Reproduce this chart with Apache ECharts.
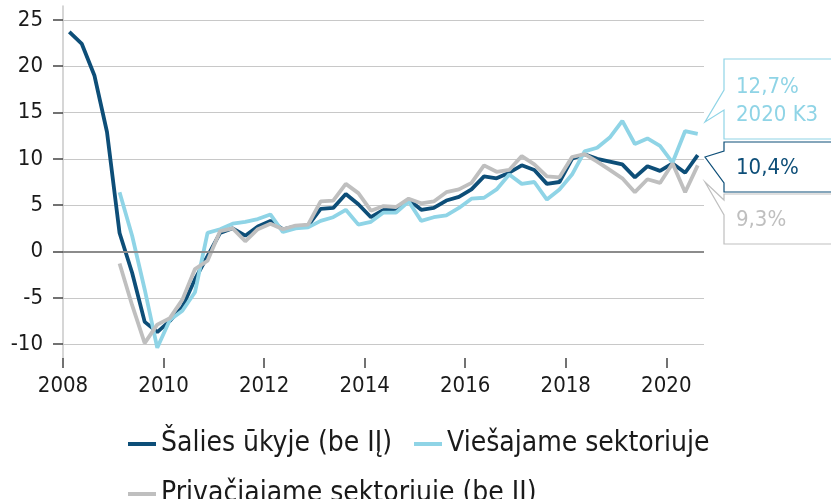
<!DOCTYPE html>
<html>
<head>
<meta charset="utf-8">
<script src="https://cdn.jsdelivr.net/npm/echarts@6/dist/echarts.min.js"></script>
<style>
html, body { margin: 0; padding: 0; background: #fff; }
#main { width: 831px; height: 499px; }
</style>
</head>
<body>
<div id="main"></div>
<script>
// ketvirciai nuo 2008 K1 iki 2020 K3
var firstYear = 2008;
var quarterCount = 51;

var seriesNames = ['Šalies ūkyje (be IĮ)', 'Viešajame sektoriuje', 'Privačiajame sektoriuje (be IĮ)'];

var economy = [
    23.7, 22.4, 19.0, 12.9,
    2.0, -2.3, -7.6, -8.7,
    -7.5, -6.0, -3.0, -0.5,
    2.0, 2.5, 1.7, 2.7,
    3.3, 2.4, 2.7, 2.8,
    4.6, 4.7, 6.2, 5.1,
    3.7, 4.5, 4.6, 5.6,
    4.5, 4.7, 5.5, 5.9,
    6.7, 8.1, 7.9, 8.5,
    9.3, 8.8, 7.3, 7.5,
    10.0, 10.5, 10.0, 9.7,
    9.4, 8.0, 9.2, 8.7,
    9.5, 8.5, 10.4
];
var publicSector = [
    null, null, null, null,
    6.4, 1.7, -4.1, -10.4,
    -7.4, -6.4, -4.4, 2.0,
    2.4, 3.0, 3.2, 3.5,
    4.0, 2.1, 2.5, 2.6,
    3.3, 3.7, 4.5, 2.9,
    3.2, 4.2, 4.2, 5.4,
    3.3, 3.7, 3.9, 4.7,
    5.7, 5.8, 6.7, 8.3,
    7.3, 7.5, 5.6, 6.7,
    8.3, 10.8, 11.2, 12.3,
    14.1, 11.6, 12.2, 11.4,
    9.6, 13.0, 12.7
];
var privateSector = [
    null, null, null, null,
    -1.3, -5.8, -9.9, -7.9,
    -7.2, -5.2, -1.9, -1.0,
    2.2, 2.5, 1.1, 2.4,
    3.0, 2.4, 2.8, 2.9,
    5.4, 5.5, 7.3, 6.3,
    4.4, 4.9, 4.8, 5.7,
    5.2, 5.4, 6.4, 6.7,
    7.4, 9.3, 8.6, 8.8,
    10.3, 9.4, 8.1, 8.0,
    10.2, 10.5, 9.7, 8.8,
    7.9, 6.4, 7.8, 7.4,
    9.5, 6.4, 9.3
];

var yTicks = [-10, -5, 0, 5, 10, 15, 20, 25];
var xTicks = [2008, 2010, 2012, 2014, 2016, 2018, 2020];

var colors = ['#0d4e78', '#8fd4e6', '#bfbfbf'];
var font = '"DejaVu Sans Condensed", "DejaVu Sans", sans-serif';

// ketvirciu pavadinimai ir ju vieta laiko asyje (ketvircio vidurys)
var quarters = [];
var quarterPos = [];
for (var i = 0; i < quarterCount; i++) {
    var year = firstYear + Math.floor(i / 4);
    quarters.push(year + ' K' + (i % 4 + 1));
    quarterPos.push(firstYear + (i + 0.5) / 4);
}

function pairs(values) {
    return values.map(function (v, i) { return [quarterPos[i], v]; });
}
function pct(v) {
    return v.toFixed(1).replace('.', ',') + '%';
}

var last = quarterCount - 1;
var chart = echarts.init(document.getElementById('main'), null, { renderer: 'canvas' });

var option = {
    animation: false,
    backgroundColor: '#ffffff',
    color: colors,
    textStyle: { fontFamily: font },
    grid: { left: 63, right: 127, top: 6, bottom: 141, containLabel: false },
    xAxis: {
        type: 'value',
        min: 2008,
        max: 2020.75,
        axisLine: { show: false, onZero: false },
        axisTick: { show: true, length: 10, customValues: xTicks, lineStyle: { color: '#444', width: 1.5 } },
        axisLabel: {
            customValues: xTicks, margin: 17, fontSize: 22, color: '#1a1a1a', fontFamily: font,
            formatter: function (v) { return String(v); }
        },
        splitLine: { show: false }
    },
    yAxis: {
        type: 'value',
        min: -11.5,
        max: 26.5,
        axisLine: { show: true, lineStyle: { color: '#c8c8c8', width: 1.5 } },
        axisTick: { show: true, length: 10, customValues: yTicks, lineStyle: { color: '#444', width: 1.5 } },
        axisLabel: { customValues: yTicks, margin: 20, fontSize: 22, color: '#1a1a1a', fontFamily: font },
        splitLine: { show: true, lineStyle: { color: '#c8c8c8', width: 1.2 } }
    },
    legend: {
        data: seriesNames,
        left: 128,
        top: 430,
        width: 660,
        padding: 0,
        icon: 'rect',
        itemWidth: 28,
        itemHeight: 4,
        itemGap: 22,
        selectedMode: false,
        textStyle: { fontSize: 28, color: '#1a1a1a', fontFamily: font, lineHeight: 22 }
    },
    series: [
        {
            name: 'nulis',
            type: 'line',
            data: [],
            z: 1,
            silent: true,
            markLine: {
                silent: true,
                symbol: 'none',
                label: { show: false },
                lineStyle: { color: '#8c8c8c', width: 2, type: 'solid' },
                data: [{ yAxis: 0 }]
            }
        },
        {
            name: seriesNames[0], type: 'line', data: pairs(economy), z: 3,
            showSymbol: false, symbol: 'none', color: colors[0],
            lineStyle: { width: 3.8, color: colors[0] }
        },
        {
            name: seriesNames[1], type: 'line', data: pairs(publicSector), z: 3,
            showSymbol: false, symbol: 'none', color: colors[1],
            lineStyle: { width: 3.8, color: colors[1] }
        },
        {
            name: seriesNames[2], type: 'line', data: pairs(privateSector), z: 3,
            showSymbol: false, symbol: 'none', color: colors[2],
            lineStyle: { width: 3.8, color: colors[2] }
        }
    ],
    graphic: [
        { type: 'polyline', silent: true,
          shape: { points: [[831, 59], [724, 59], [724, 90], [705, 122], [724, 110], [724, 139], [831, 139]] },
          style: { stroke: colors[1], lineWidth: 1.2, fill: null } },
        { type: 'polyline', silent: true,
          shape: { points: [[831, 142], [724, 142], [724, 151], [705, 157], [724, 183], [724, 192], [831, 192]] },
          style: { stroke: colors[0], lineWidth: 1.2, fill: null } },
        { type: 'polyline', silent: true,
          shape: { points: [[831, 194], [724, 194], [724, 200], [705, 182], [724, 215], [724, 244], [831, 244]] },
          style: { stroke: colors[2], lineWidth: 1.2, fill: null } },
        { type: 'text', silent: true, x: 736, y: 87,
          style: { text: pct(publicSector[last]), fill: colors[1], font: '22px ' + font, textVerticalAlign: 'middle' } },
        { type: 'text', silent: true, x: 736, y: 115,
          style: { text: quarters[last], fill: colors[1], font: '22px ' + font, textVerticalAlign: 'middle' } },
        { type: 'text', silent: true, x: 736, y: 168,
          style: { text: pct(economy[last]), fill: colors[0], font: '22px ' + font, textVerticalAlign: 'middle' } },
        { type: 'text', silent: true, x: 736, y: 220,
          style: { text: pct(privateSector[last]), fill: colors[2], font: '22px ' + font, textVerticalAlign: 'middle' } }
    ]
};

chart.setOption(option);
</script>
</body>
</html>
